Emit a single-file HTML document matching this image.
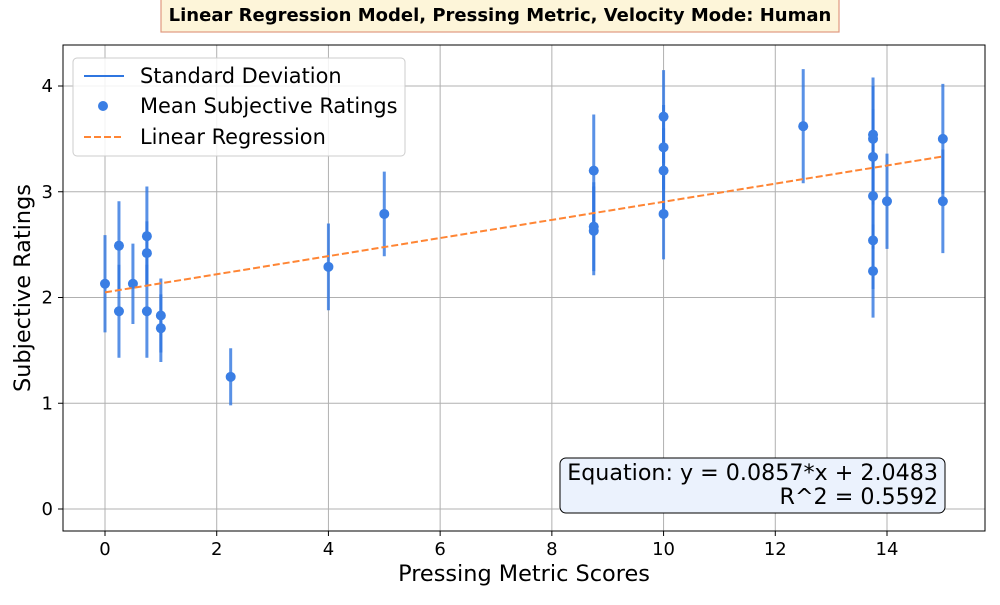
<!DOCTYPE html>
<html><head><meta charset="utf-8"><style>
body{margin:0;background:#fff;font-family:"Liberation Sans","DejaVu Sans",sans-serif}
svg text{font-family:"DejaVu Sans","Liberation Sans",sans-serif}
</style></head><body>
<svg id="c" width="1000" height="600" xmlns="http://www.w3.org/2000/svg"></svg>
<script>
const xs=[0,0.25,0.25,0.5,0.75,0.75,0.75,1,1,2.25,4,5,8.75,8.75,8.75,10,10,10,10,12.5,13.75,13.75,13.75,13.75,13.75,13.75,14,15,15];
const means=[2.13,2.49,1.87,2.13,2.58,2.42,1.87,1.83,1.71,1.25,2.29,2.79,3.2,2.67,2.63,3.71,3.42,3.2,2.79,3.62,3.54,3.5,3.33,2.96,2.54,2.25,2.91,3.5,2.91];
const sds=[0.46,0.42,0.44,0.38,0.47,0.3,0.44,0.35,0.32,0.27,0.41,0.4,0.53,0.42,0.42,0.44,0.4,0.4,0.43,0.54,0.54,0.5,0.45,0.5,0.46,0.44,0.45,0.52,0.49];
const slope=0.0857, intercept=2.0483;
const xTicks=[0,2,4,6,8,10,12,14], yTicks=[0,1,2,3,4];
const L=63,R=985,T=45,B=531;
const X=v=>105+v*55.857, Y=v=>509-v*105.75;
const s=document.getElementById('c'), NS='http://www.w3.org/2000/svg';
function el(t,a,p){const e=document.createElementNS(NS,t);for(const k in a)e.setAttribute(k,a[k]);(p||s).appendChild(e);return e;}
let e;
e=el('rect',{x:161,y:-1,width:678,height:33,fill:'#fdf5d9',stroke:'#e09a80','stroke-width':1.2});

e=el('text',{x:500,y:21,'text-anchor':'middle','font-size':18,'font-weight':'bold'});e.textContent='Linear Regression Model, Pressing Metric, Velocity Mode: Human';

xTicks.forEach(t=>{
 e=el('line',{x1:X(t),x2:X(t),y1:T,y2:B,stroke:'#b0b0b0','stroke-width':1});
 
 el('line',{x1:X(t),x2:X(t),y1:B,y2:B+5,stroke:'#000'});
 e=el('text',{x:X(t),y:B+24,'text-anchor':'middle','font-size':18});e.textContent=t;
 
});
yTicks.forEach(t=>{
 e=el('line',{x1:L,x2:R,y1:Y(t),y2:Y(t),stroke:'#b0b0b0','stroke-width':1});
 
 el('line',{x1:L-5,x2:L,y1:Y(t),y2:Y(t),stroke:'#000'});
 e=el('text',{x:L-10,y:Y(t)+6,'text-anchor':'end','font-size':18});e.textContent=t;
 
});
xs.forEach((x,i)=>{
 e=el('line',{x1:X(x),x2:X(x),y1:Y(means[i]-sds[i]),y2:Y(means[i]+sds[i]),stroke:'#2f76e0','stroke-width':3,'stroke-opacity':0.8});
 
});
xs.forEach((x,i)=>{
 e=el('circle',{cx:X(x),cy:Y(means[i]),r:5,fill:'#3a7ee4'});
 
});
e=el('line',{x1:X(0),y1:Y(intercept),x2:X(15),y2:Y(intercept+slope*15),stroke:'#ff8534','stroke-width':2,'stroke-dasharray':'7,3'});

e=el('rect',{x:L,y:T,width:R-L,height:B-T,fill:'none',stroke:'#000','stroke-width':1});

e=el('text',{x:524,y:581,'text-anchor':'middle','font-size':22.4});e.textContent='Pressing Metric Scores';

e=el('text',{x:30,y:288,'text-anchor':'middle','font-size':22.4,transform:'rotate(-90 30 288)'});e.textContent='Subjective Ratings';

const lg=el('g',{});
el('rect',{x:73,y:58,width:332,height:98,rx:4,fill:'#fff','fill-opacity':0.85,stroke:'#ccc'},lg);
el('line',{x1:84,x2:124,y1:76,y2:76,stroke:'#2f76e0','stroke-width':2},lg);
el('circle',{cx:103,cy:106,r:5,fill:'#3a7ee4'},lg);
el('line',{x1:84,x2:124,y1:137,y2:137,stroke:'#ff8534','stroke-width':2,'stroke-dasharray':'7,3'},lg);
[['Standard Deviation',83],['Mean Subjective Ratings',113],['Linear Regression',144]].forEach(([t,y])=>{
 e=el('text',{x:140,y:y,'font-size':20.9},lg);e.textContent=t;
 
});
const eb=el('g',{});
el('rect',{x:560,y:458,width:385,height:55,rx:6,fill:'#ebf2fd',stroke:'#000','stroke-width':1},eb);
e=el('text',{x:938,y:480,'text-anchor':'end','font-size':22.2},eb);e.textContent='Equation: y = 0.0857*x + 2.0483';
e=el('text',{x:938,y:504,'text-anchor':'end','font-size':22.2},eb);e.textContent='R^2 = 0.5592';
</script>
</body></html>
